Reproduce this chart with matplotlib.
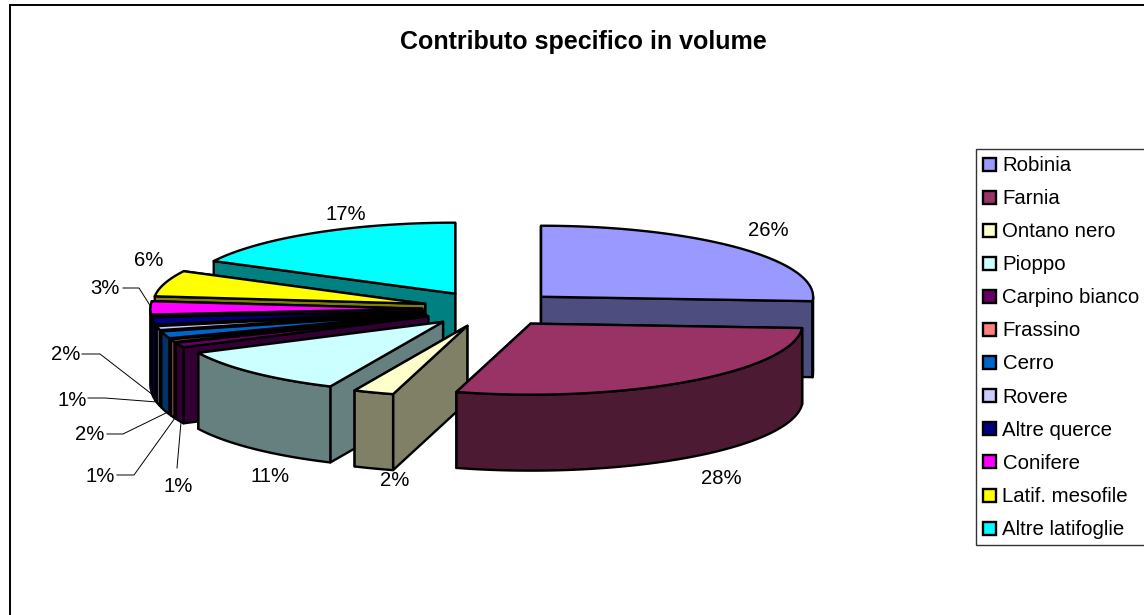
import numpy as np
import matplotlib

matplotlib.use("Agg")
import matplotlib.pyplot as plt
from matplotlib.patches import Polygon, Rectangle

plt.rcParams["font.family"] = ["Liberation Sans", "DejaVu Sans"]

species = ["Robinia", "Farnia", "Ontano nero", "Pioppo", "Carpino bianco", "Frassino", "Cerro",
           "Rovere", "Altre querce", "Conifere", "Latif. mesofile", "Altre latifoglie"]
shares = [26.0, 28.4, 2.4, 11.0, 1.1, 0.6, 1.6, 0.9, 1.7, 3.0, 5.9, 17.4]
colors = ["#9999FF", "#993366", "#FFFFCC", "#CCFFFF", "#660066", "#FF8080", "#0066CC",
          "#CCCCFF", "#000080", "#FF00FF", "#FFFF00", "#00FFFF"]

# pie geometry in image pixels
CX, CY = 491.0, 309.0
RX, RY = 272.0, 71.0
DEPTH = 76.0
EXPLODE = 68.7
LW = 1.7

# label centres and leader lines, one row per slice
label_pos = [(768, 230.5), (721, 478.5), (395, 480), (270, 476), (178, 487), (100, 477),
             (90, 435), (72, 400), (66, 355), (105, 289), (149, 261), (346, 215)]
leaders = {
    4: [(177, 468), (181, 422)],
    5: [(117, 475), (134, 475), (175, 418)],
    6: [(107, 434), (123, 434), (166, 413)],
    7: [(88, 398), (105, 398), (157, 402)],
    8: [(82, 354), (100, 354), (153, 395)],
    9: [(123, 288), (139, 288), (151, 307)],
}


def rim(apex, a0, a1):
    t = np.radians(np.linspace(a0, a1, max(2, int(abs(a1 - a0)) + 2)))
    return np.column_stack([apex[0] + RX * np.sin(t), apex[1] - RY * np.cos(t)])


def shade(color):
    return tuple(c * 0.5 for c in matplotlib.colors.to_rgb(color))


def draw_poly(ax, pts, face):
    ax.add_patch(Polygon(pts, closed=True, facecolor=face, edgecolor="black", linewidth=LW, joinstyle="round"))


def draw_slice(ax, a0, a1, color):
    mid = np.radians((a0 + a1) / 2)
    apex = np.array([CX + EXPLODE * np.sin(mid), CY - EXPLODE * (RY / RX) * np.cos(mid)])
    down = np.array([0, DEPTH])
    side = shade(color)

    # radial walls, the one further back first
    corners = [rim(apex, a, a)[0] for a in (a0, a1)]
    for c in sorted(corners, key=lambda p: p[1]):
        draw_poly(ax, [apex, c, c + down, apex + down], side)

    # outer wall only where it faces the viewer
    lo, hi = max(a0, 90), min(a1, 270)
    if hi > lo:
        arc = rim(apex, lo, hi)
        draw_poly(ax, np.vstack([arc, arc[::-1] + down]), side)

    draw_poly(ax, np.vstack([[apex], rim(apex, a0, a1)]), color)


fig = plt.figure(figsize=(11.44, 6.15), dpi=100)
ax = fig.add_axes([0, 0, 1, 1])
ax.set_xlim(0, 1144)
ax.set_ylim(615, 0)
ax.axis("off")

ax.add_patch(Rectangle((10, 5), 1150, 640, facecolor="white", edgecolor="black", linewidth=1.4))
ax.text(583, 41.5, "Contributo specifico in volume", ha="center", va="center", fontsize=18, fontweight="bold")

edges = 3.6 * np.concatenate([[0], np.cumsum(shares)])
order = [0] + list(range(len(shares) - 1, 0, -1))
for i in order:
    draw_slice(ax, edges[i], edges[i + 1], colors[i])

for i, share in enumerate(shares):
    x, y = label_pos[i]
    ax.text(x, y, f"{share:.0f}%", ha="center", va="center", fontsize=14.6, color="black")
for pts in leaders.values():
    xs, ys = zip(*pts)
    ax.plot(xs, ys, color="black", linewidth=0.7)

# legend box
ax.add_patch(Rectangle((975.5, 149), 185, 396, facecolor="white", edgecolor="#333333", linewidth=1.0))
for i, name in enumerate(species):
    y = 164.5 + i * 33.05
    ax.add_patch(Rectangle((983, y - 6.5), 13, 13, facecolor=colors[i], edgecolor="black", linewidth=1.7))
    ax.text(1002.5, y + 1.2, name, ha="left", va="center", fontsize=14.7)

fig.savefig("out.png", dpi=100)
plt.close(fig)
